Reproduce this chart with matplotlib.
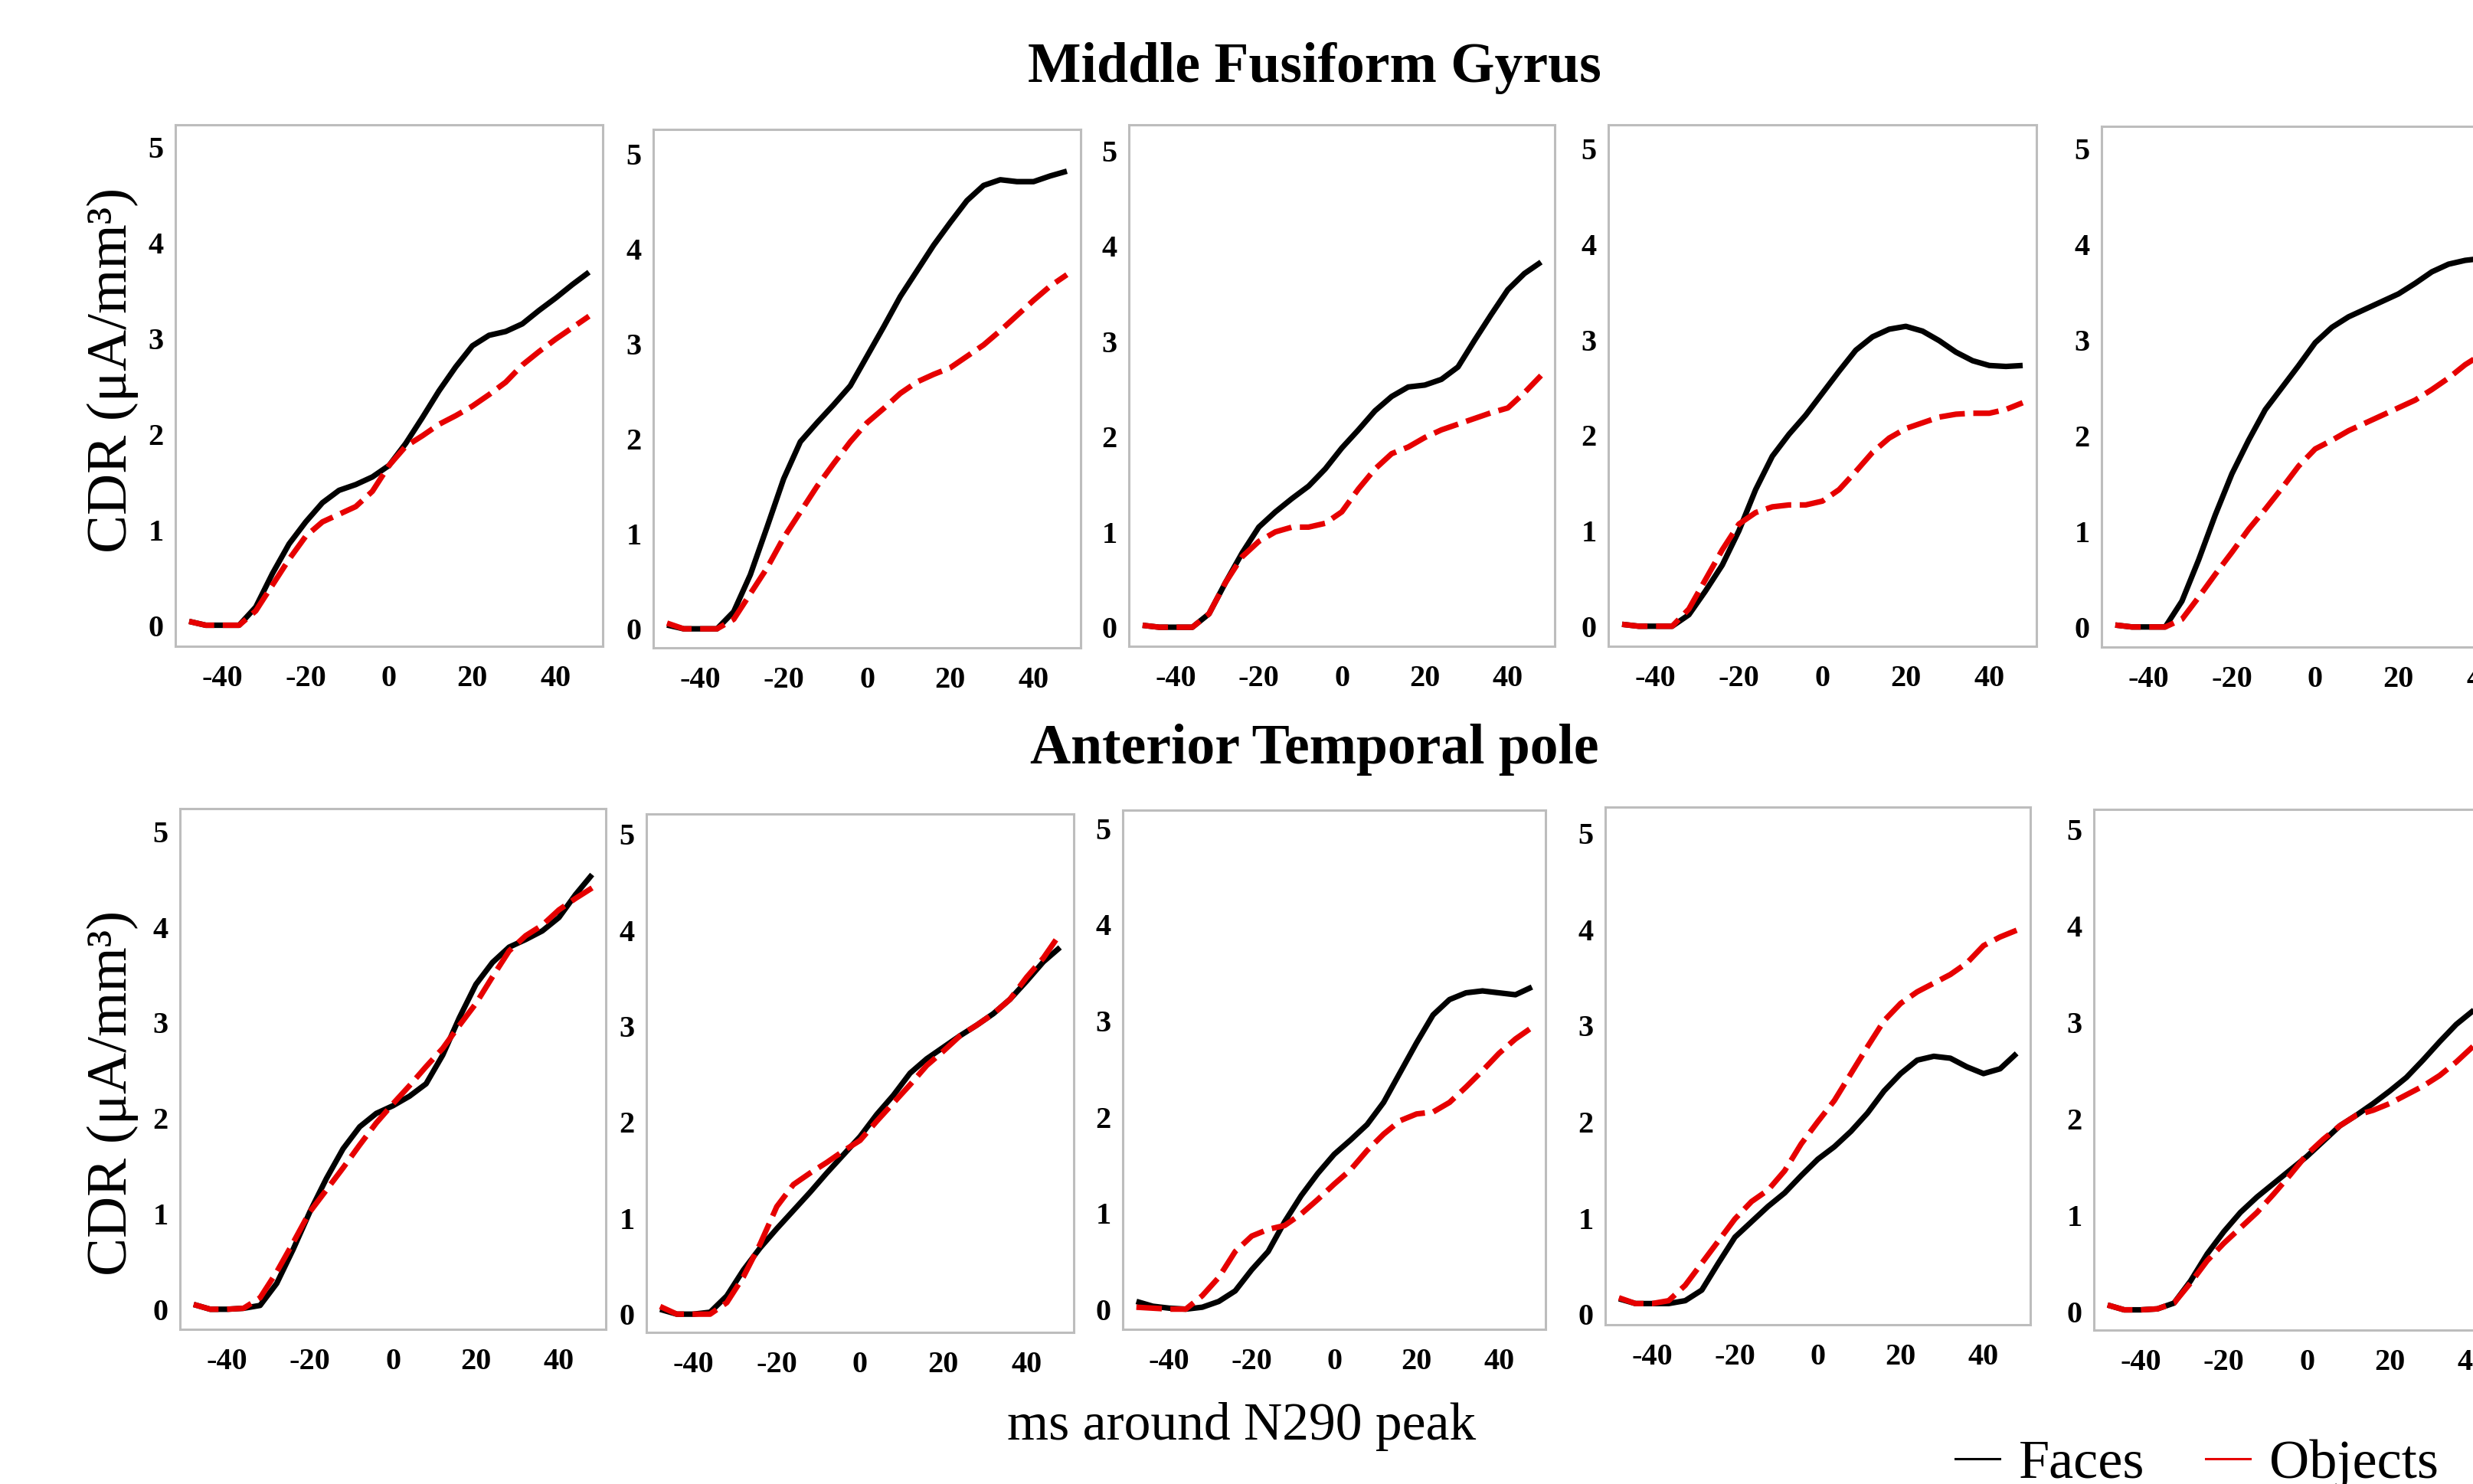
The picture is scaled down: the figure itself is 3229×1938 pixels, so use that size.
import matplotlib
matplotlib.use("Agg")
import matplotlib.pyplot as plt
from matplotlib.lines import Line2D

plt.rcParams['font.family'] = ['Liberation Serif', 'DejaVu Serif']
plt.rcParams['lines.scale_dashes'] = False
plt.rcParams['axes.unicode_minus'] = False

W, H = 3229, 1938

# ms around N290 peak
ms = [-48, -44, -40, -36, -32, -28, -24, -20, -16, -12, -8, -4, 0,
      4, 8, 12, 16, 20, 24, 28, 32, 36, 40, 44, 48]

# ---- Middle Fusiform Gyrus ----
mfg1_faces = [0.04, 0, 0, 0, 0.19, 0.54, 0.85, 1.08, 1.28, 1.41, 1.47, 1.55, 1.67,
              1.90, 2.17, 2.45, 2.70, 2.92, 3.03, 3.07, 3.15, 3.29, 3.42, 3.56, 3.69]
mfg1_objects = [0.04, 0, 0, 0, 0.15, 0.42, 0.69, 0.93, 1.08, 1.16, 1.24, 1.40, 1.67,
                1.87, 1.98, 2.10, 2.19, 2.29, 2.41, 2.54, 2.72, 2.86, 2.99, 3.11, 3.23]

mfg2_faces = [0.04, 0, 0, 0, 0.18, 0.57, 1.07, 1.58, 1.97, 2.17, 2.36, 2.56, 2.87,
              3.18, 3.50, 3.77, 4.04, 4.28, 4.51, 4.67, 4.73, 4.71, 4.71, 4.77, 4.82]
mfg2_objects = [0.06, 0, 0, 0, 0.10, 0.37, 0.64, 0.96, 1.23, 1.50, 1.74, 1.97, 2.17,
                2.32, 2.48, 2.60, 2.68, 2.75, 2.87, 2.99, 3.14, 3.30, 3.46, 3.61, 3.73]

mfg3_faces = [0.02, 0, 0, 0, 0.14, 0.47, 0.78, 1.05, 1.21, 1.35, 1.48, 1.66, 1.88,
              2.07, 2.27, 2.42, 2.52, 2.54, 2.60, 2.73, 3.01, 3.28, 3.54, 3.71, 3.83]
mfg3_objects = [0.02, 0, 0, 0, 0.14, 0.47, 0.74, 0.90, 1.00, 1.05, 1.05, 1.09, 1.21,
                1.45, 1.66, 1.82, 1.89, 1.99, 2.07, 2.13, 2.19, 2.25, 2.30, 2.46, 2.64]

mfg4_faces = [0.02, 0, 0, 0, 0.12, 0.37, 0.64, 1.00, 1.43, 1.78, 2.01, 2.21, 2.44,
              2.67, 2.89, 3.03, 3.11, 3.14, 3.09, 2.99, 2.87, 2.78, 2.73, 2.72, 2.73]
mfg4_objects = [0.02, 0, 0, 0, 0.18, 0.49, 0.80, 1.07, 1.19, 1.25, 1.27, 1.27, 1.31,
                1.43, 1.62, 1.82, 1.97, 2.07, 2.13, 2.19, 2.22, 2.23, 2.23, 2.27, 2.34]

mfg5_faces = [0.02, 0, 0, 0, 0.27, 0.70, 1.17, 1.60, 1.95, 2.27, 2.50, 2.73, 2.97,
              3.13, 3.24, 3.32, 3.40, 3.48, 3.59, 3.71, 3.79, 3.83, 3.85, 3.85, 3.85]
mfg5_objects = [0.02, 0, 0, 0, 0.08, 0.31, 0.55, 0.78, 1.02, 1.23, 1.45, 1.68, 1.86,
                1.95, 2.05, 2.13, 2.21, 2.29, 2.37, 2.48, 2.60, 2.74, 2.85, 2.95, 3.05]

# ---- Anterior Temporal pole ----
atp1_faces = [0.05, 0, 0, 0.01, 0.04, 0.27, 0.63, 1.02, 1.37, 1.68, 1.91, 2.05, 2.13,
              2.23, 2.36, 2.66, 3.05, 3.40, 3.63, 3.79, 3.87, 3.96, 4.10, 4.34, 4.55]
atp1_objects = [0.05, 0, 0, 0.01, 0.12, 0.39, 0.70, 1.02, 1.25, 1.48, 1.72, 1.95, 2.15,
                2.34, 2.54, 2.73, 2.97, 3.20, 3.48, 3.75, 3.91, 4.02, 4.18, 4.30, 4.41]

atp2_faces = [0.05, 0, 0, 0.02, 0.19, 0.46, 0.69, 0.89, 1.08, 1.27, 1.47, 1.66, 1.85,
              2.08, 2.28, 2.51, 2.66, 2.78, 2.90, 3.01, 3.13, 3.28, 3.47, 3.67, 3.82]
atp2_objects = [0.08, 0, 0, 0, 0.12, 0.39, 0.73, 1.12, 1.35, 1.47, 1.58, 1.70, 1.81,
                2.01, 2.20, 2.39, 2.59, 2.74, 2.90, 3.01, 3.13, 3.28, 3.51, 3.71, 3.96]

atp3_faces = [0.08, 0.03, 0.01, 0, 0.02, 0.08, 0.19, 0.41, 0.60, 0.91, 1.18, 1.41, 1.61,
              1.76, 1.92, 2.15, 2.46, 2.77, 3.06, 3.22, 3.29, 3.31, 3.29, 3.27, 3.35]
atp3_objects = [0.02, 0.01, 0, 0, 0.14, 0.33, 0.60, 0.76, 0.83, 0.87, 0.99, 1.14, 1.30,
                1.45, 1.65, 1.82, 1.96, 2.03, 2.05, 2.15, 2.31, 2.48, 2.66, 2.81, 2.93]

atp4_faces = [0.16, 0.11, 0.11, 0.11, 0.14, 0.25, 0.53, 0.80, 0.96, 1.12, 1.26, 1.44, 1.61,
              1.74, 1.90, 2.09, 2.32, 2.50, 2.64, 2.68, 2.66, 2.57, 2.50, 2.55, 2.71]
atp4_objects = [0.17, 0.11, 0.11, 0.14, 0.30, 0.53, 0.76, 0.99, 1.17, 1.29, 1.49, 1.77, 2.00,
                2.22, 2.50, 2.78, 3.05, 3.23, 3.35, 3.44, 3.53, 3.65, 3.83, 3.92, 3.99]

atp5_faces = [0.07, 0.02, 0.02, 0.03, 0.09, 0.32, 0.60, 0.83, 1.03, 1.19, 1.33, 1.47, 1.61,
              1.77, 1.93, 2.04, 2.16, 2.29, 2.43, 2.61, 2.80, 2.98, 3.12, 3.25, 3.38]
atp5_objects = [0.07, 0.02, 0.02, 0.03, 0.09, 0.30, 0.53, 0.71, 0.87, 1.03, 1.22, 1.42, 1.63,
                1.79, 1.93, 2.04, 2.09, 2.16, 2.25, 2.34, 2.45, 2.59, 2.75, 2.90, 3.05]

mfg_panels = [(mfg1_faces, mfg1_objects), (mfg2_faces, mfg2_objects),
              (mfg3_faces, mfg3_objects), (mfg4_faces, mfg4_objects),
              (mfg5_faces, mfg5_objects)]
atp_panels = [(atp1_faces, atp1_objects), (atp2_faces, atp2_objects),
              (atp3_faces, atp3_objects), (atp4_faces, atp4_objects),
              (atp5_faces, atp5_objects)]

x_ticks = [-40, -20, 0, 20, 40]
y_ticks = [0, 1, 2, 3, 4, 5]

# panel frames in pixels: left, top, right, bottom
top_boxes = [(229, 163, 787, 844), (853, 169, 1411, 846), (1474, 163, 2030, 844),
             (2100, 163, 2659, 844), (2744, 165, 3302, 845)]
bot_boxes = [(235, 1056, 791, 1736), (844, 1063, 1402, 1740), (1466, 1058, 2018, 1736),
             (2096, 1054, 2651, 1730), (2734, 1057, 3290, 1737)]
top_ylims = [(-0.22, 5.23), (-0.20, 5.26), (-0.20, 5.27), (-0.21, 5.25), (-0.21, 5.23)]
bot_ylims = [(-0.21, 5.24), (-0.19, 5.21), (-0.21, 5.19), (-0.11, 5.27), (-0.19, 5.21)]

RED = '#e60000'
FRAME = '#bdbdbd'


def make_panel(fig, box, ylim, faces, objects):
    l, t, r, b = box
    ax = fig.add_axes([l / W, 1 - b / H, (r - l) / W, (b - t) / H])
    ax.plot(ms, faces, color='black', lw=5.2, solid_capstyle='butt',
            solid_joinstyle='round', zorder=2)
    ax.plot(ms, objects, color=RED, lw=5.2, dashes=(24, 8), dash_capstyle='butt',
            dash_joinstyle='round', zorder=3)
    ax.set_xlim(-51.3, 51.3)
    ax.set_ylim(*ylim)
    ax.set_xticks(x_ticks)
    ax.set_yticks(y_ticks)
    ax.tick_params(length=0, labelsize=29)
    ax.tick_params(axis='y', pad=11)
    ax.tick_params(axis='x', pad=17)
    for lab in ax.get_xticklabels() + ax.get_yticklabels():
        lab.set_fontweight('bold')
    for sp in ax.spines.values():
        sp.set_color(FRAME)
        sp.set_linewidth(2.2)
    return ax


fig = plt.figure(figsize=(W / 100, H / 100), dpi=100)

for i, (faces, objects) in enumerate(mfg_panels):
    ax = make_panel(fig, top_boxes[i], top_ylims[i], faces, objects)
    if i == 0:
        ax.set_ylabel('CDR (μA/mm³)', fontsize=54)
        ax.yaxis.set_label_coords(-0.086, 0.53)

for i, (faces, objects) in enumerate(atp_panels):
    ax = make_panel(fig, bot_boxes[i], bot_ylims[i], faces, objects)
    if i == 0:
        ax.set_ylabel('CDR (μA/mm³)', fontsize=54)
        ax.yaxis.set_label_coords(-0.097, 0.454)

fig.text(1716 / W, 1 - 107 / H, 'Middle Fusiform Gyrus', fontsize=53,
         fontweight='bold', ha='center', va='baseline')
fig.text(1716 / W, 1 - 997 / H, 'Anterior Temporal pole', fontsize=53,
         fontweight='bold', ha='center', va='baseline')
fig.text(1621 / W, 1 - 1880 / H, 'ms around N290 peak', fontsize=50,
         ha='center', va='baseline')

handles = [Line2D([], [], color='black', lw=2.2),
           Line2D([], [], color=RED, lw=2.2)]
fig.legend(handles, ['Faces', 'Objects'], loc='center left',
           bbox_to_anchor=(2553 / W, 1 - 1912 / H), bbox_transform=fig.transFigure,
           ncol=2, frameon=False, borderpad=0, borderaxespad=0,
           handlelength=0.8, handletextpad=0.35, columnspacing=1.1,
           prop={'size': 52})

fig.savefig('out.png', dpi=100)
